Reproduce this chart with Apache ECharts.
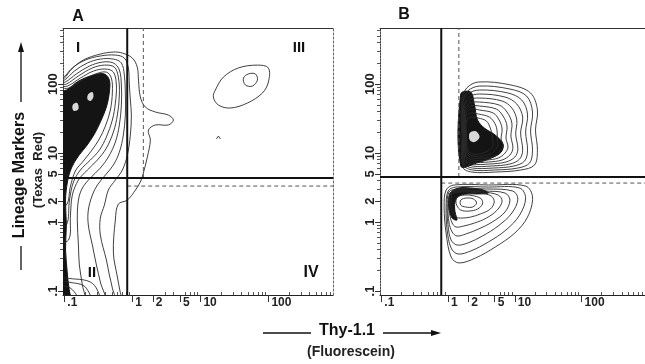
<!DOCTYPE html>
<html>
<head>
<meta charset="utf-8">
<script src="https://cdn.jsdelivr.net/npm/echarts@6/dist/echarts.min.js"></script>
<style>
html, body { margin: 0; padding: 0; background: #fff; }
#chart { width: 645px; height: 364px; }
</style>
</head>
<body>
<div id="chart"></div>
<script>
// log axes: tick marks and labels
var tickValues = [0.1, 1, 2, 5, 10, 100];
var tickLabels = ['.1', '1', '2', '5', '10', '100'];
var minorTickValues = [0.2, 0.3, 0.4, 0.5, 0.6, 0.7, 0.8, 0.9, 3, 4, 6, 7, 8, 9,
    20, 30, 40, 50, 60, 70, 80, 90, 200, 300, 400, 500, 600, 700, 800];
var xExtent = [0.0955, 891];
var yExtent = [0.0875, 649];

// gates: [solid x, solid y], [dashed x, dashed y]
var gateA = [0.84, 4.34], dashA = [1.45, 3.32];
var gateB = [0.79, 4.49], dashB = [1.45, 3.67];

// panel A contours (Thy-1.1, lineage)
var aRings = [
    [[0.074,122],[0.097,126],[0.123,160],[0.190,223],[0.338,272],[0.526,291],[0.713,281],[1.0,238],[1.18,176],[1.23,114],[1.31,64.8],[1.55,46.4],[2.18,39.3],[3.38,35.5],[4.01,30.1],[3.38,25.5],[2.18,25.5],[1.72,21.5],[1.84,15.4],[1.66,8.75],[1.45,5.13],[1.31,3.80],[1.11,2.91],[0.844,2.08],[0.622,1.82],[0.562,1.07],[0.526,0.356],[0.602,0.160],[0.666,0.094],[0.713,0.069],[0.074,0.069]],
    [[0.074,114],[0.097,118],[0.131,171],[0.204,223],[0.338,255],[0.562,263],[0.762,238],[0.873,171],[0.903,96.8],[0.934,58.6],[0.967,35.5],[0.934,18.2],[0.844,9.35],[0.713,5.67],[0.562,4.06],[0.444,2.91],[0.388,1.76],[0.338,1.14],[0.338,0.648],[0.415,0.281],[0.459,0.171],[0.508,0.110],[0.544,0.069],[0.074,0.069]],
    [[0.074,107],[0.100,114],[0.140,154],[0.218,202],[0.338,230],[0.526,230],[0.689,202],[0.762,135],[0.789,69.3],[0.789,35.5],[0.737,18.2],[0.644,10.3],[0.526,6.70],[0.401,4.80],[0.306,3.44],[0.258,2.46],[0.225,1.49],[0.225,0.905],[0.258,0.464],[0.296,0.238],[0.338,0.135],[0.388,0.069],[0.074,0.069]],
    [[0.074,100],[0.103,107],[0.150,140],[0.233,182],[0.362,208],[0.526,202],[0.644,160],[0.689,96.8],[0.689,49.6],[0.644,25.5],[0.562,14.4],[0.444,8.75],[0.338,6.06],[0.241,4.34],[0.184,3.11],[0.161,2.08],[0.155,1.07],[0.161,0.464],[0.166,0.238],[0.184,0.122],[0.197,0.069],[0.074,0.069]],
    [[0.074,93.5],[0.107,100],[0.161,131],[0.258,171],[0.388,188],[0.544,176],[0.622,126],[0.644,69.3],[0.602,35.5],[0.526,20.2],[0.415,11.8],[0.306,7.92],[0.218,5.67],[0.161,4.06],[0.131,2.46],[0.123,1.26],[0.115,0.548],[0.074,0.548]],
    [[0.074,87.5],[0.111,93.5],[0.172,122],[0.267,154],[0.401,165],[0.526,149],[0.582,96.8],[0.562,53.0],[0.508,30.1],[0.415,17.1],[0.327,11.0],[0.241,7.92],[0.172,5.67],[0.136,3.80],[0.119,2.08],[0.107,0.905],[0.074,0.905]],
    [[0.074,81.9],[0.115,87.5],[0.184,114],[0.286,140],[0.415,149],[0.491,122],[0.508,76.6],[0.475,42.0],[0.401,24.6],[0.327,16.0],[0.249,10.7],[0.190,7.66],[0.145,5.48],[0.123,3.32],[0.107,1.76],[0.074,1.76]],
    [[0.074,0.144],[0.145,0.149],[0.241,0.135],[0.306,0.103],[0.327,0.069],[0.074,0.069]],
    [[0.074,0.131],[0.136,0.131],[0.204,0.114],[0.241,0.069],[0.074,0.069]],
    [[0.074,0.114],[0.123,0.110],[0.161,0.069],[0.074,0.069]],
    [[16.6,81.9],[21.8,126],[36.2,171],[68.9,188],[100,171],[100,107],[81.6,74.1],[49.1,53.0],[27.6,44.9],[18.4,49.6],[15.5,64.8]],
    [[42.9,122],[50.8,140],[64.4,140],[68.9,114],[58.2,93.5],[45.9,96.8]]
];
var aCores = [
    [[0.074,74.1],[0.107,81.9],[0.161,110],[0.267,135],[0.388,140],[0.459,114],[0.459,76.6],[0.415,46.4],[0.338,28.1],[0.276,18.8],[0.211,12.6],[0.161,9.05],[0.127,6.06],[0.111,3.80],[0.104,2.08],[0.107,0.905],[0.104,0.393],[0.111,0.171],[0.115,0.069],[0.074,0.069]],
    [[0.074,0.122],[0.103,0.122],[0.119,0.097],[0.123,0.069],[0.074,0.069]]
];
var aSpots = [
    [[0.225,71.6],[0.258,76.6],[0.267,64.8],[0.241,56.7],[0.218,60.6]],
    [[0.136,51.3],[0.155,53.0],[0.161,43.4],[0.140,40.6],[0.131,44.9]]
];
var aCaret = [[17.2,16.0],[18.4,17.6],[19.7,16.0]];

// panel B contours
var bRings = [
    [[1.61,58.6],[1.90,87.5],[2.86,107],[8.73,96.8],[17.2,74.1],[21.8,42.0],[20.4,21.5],[21.8,11.0],[19.7,6.70],[12.2,5.67],[5.08,5.30],[2.25,5.30],[1.66,6.27],[1.61,18.2]],
    [[1.66,54.8],[1.97,79.2],[2.96,93.5],[8.44,84.6],[15.0,67.0],[18.4,39.3],[17.2,20.8],[18.4,11.0],[16.6,7.16],[11.1,6.06],[4.91,5.67],[2.33,5.67],[1.72,6.70],[1.66,18.2]],
    [[1.66,51.3],[1.97,71.6],[2.96,81.9],[7.89,74.1],[12.7,58.6],[15.5,36.7],[14.5,20.2],[15.5,11.0],[14.0,7.66],[9.67,6.48],[4.75,6.06],[2.33,6.06],[1.72,7.16],[1.66,18.2]],
    [[1.72,48.0],[2.04,64.8],[2.96,71.6],[7.13,64.8],[10.7,51.3],[13.1,33.2],[12.2,19.5],[13.1,11.0],[11.8,8.18],[8.44,6.93],[4.44,6.48],[2.33,6.48],[1.78,7.66],[1.72,17.6]],
    [[1.72,44.9],[2.04,58.6],[2.96,62.7],[6.44,56.7],[9.03,44.9],[10.7,30.1],[10.3,18.8],[11.1,11.4],[10.0,8.75],[7.37,7.41],[4.15,6.93],[2.33,6.93],[1.78,8.18],[1.72,17.6]],
    [[1.78,42.0],[2.11,53.0],[2.96,54.8],[5.82,49.6],[7.63,39.3],[9.03,27.2],[8.73,17.6],[9.35,11.8],[8.44,9.35],[6.44,7.92],[4.01,7.41],[2.33,7.41],[1.84,8.75],[1.78,17.1]],
    [[1.78,39.3],[2.11,48.0],[2.96,48.0],[5.26,43.4],[6.66,34.4],[7.63,24.6],[7.37,16.5],[7.89,12.2],[7.13,10.0],[5.62,8.46],[3.75,7.92],[2.33,7.92],[1.84,9.35],[1.78,17.1]],
    [[1.84,36.7],[2.18,43.4],[2.96,42.0],[4.75,38.0],[5.82,30.1],[6.44,22.3],[6.23,16.0],[6.66,12.6],[6.02,10.7],[4.91,9.05],[3.50,8.46],[2.33,8.46],[1.90,10.0],[1.84,16.5]],
    [[1.84,33.2],[2.18,38.0],[2.86,36.7],[4.15,33.2],[5.08,26.3],[5.44,20.2],[5.44,15.4],[5.62,13.1],[5.08,11.0],[4.29,9.68],[3.27,9.05],[2.33,9.05],[1.90,10.7],[1.84,16.5]],
    [[1.90,30.1],[2.25,33.2],[2.86,32.1],[3.75,29.1],[4.29,23.0],[4.59,18.2],[4.59,14.9],[4.75,13.1],[4.29,11.4],[3.62,10.3],[2.96,9.68],[2.33,9.68],[1.97,11.0],[1.90,16.0]],
    [[0.934,2.91],[1.23,3.44],[4.01,3.44],[14.5,3.32],[18.4,2.30],[15.5,1.18],[10.0,0.693],[5.08,0.434],[2.58,0.301],[1.45,0.255],[1.11,0.311],[0.934,0.693],[0.873,1.65]],
    [[1.0,2.81],[1.31,3.21],[4.01,3.21],[11.8,3.11],[14.5,2.23],[11.8,1.26],[7.37,0.766],[4.01,0.513],[2.18,0.380],[1.40,0.344],[1.11,0.420],[0.967,0.766],[0.934,1.60]],
    [[1.03,2.72],[1.36,3.01],[3.75,3.01],[9.35,2.81],[11.1,2.15],[9.03,1.35],[5.62,0.875],[3.27,0.627],[1.97,0.496],[1.36,0.464],[1.11,0.548],[1.0,0.875],[0.967,1.60]],
    [[1.07,2.63],[1.40,2.91],[3.50,2.81],[7.13,2.63],[8.44,2.08],[7.13,1.40],[4.59,1.0],[2.86,0.792],[1.84,0.670],[1.36,0.627],[1.15,0.716],[1.03,1.0],[1.0,1.60]],
    [[1.11,2.63],[1.45,2.81],[3.27,2.72],[5.62,2.46],[6.44,2.01],[5.44,1.49],[3.75,1.14],[2.49,0.967],[1.72,0.875],[1.31,0.847],[1.15,0.967],[1.07,1.22],[1.03,1.71]],
    [[1.15,2.55],[1.50,2.72],[2.96,2.63],[4.44,2.38],[4.91,1.95],[4.29,1.54],[3.06,1.31],[2.18,1.18],[1.61,1.14],[1.31,1.18],[1.18,1.35],[1.11,1.65],[1.11,2.08]],
    [[1.36,2.30],[1.78,2.46],[2.49,2.38],[3.16,2.15],[3.27,1.82],[2.76,1.54],[2.04,1.44],[1.55,1.49],[1.36,1.71],[1.31,2.01]],
    [[1.55,2.08],[1.90,2.23],[2.41,2.15],[2.67,1.88],[2.33,1.65],[1.84,1.65],[1.55,1.76]]
];
var bCores = [
    [[1.55,71.6],[2.18,76.6],[2.49,49.6],[2.76,30.1],[3.50,23.0],[5.08,18.2],[6.66,13.5],[6.23,10.3],[4.44,8.46],[2.67,7.16],[1.55,6.48]],
    [[1.11,2.72],[1.45,3.11],[2.18,3.11],[3.38,2.91],[4.01,2.63],[2.86,2.55],[1.90,2.55],[1.45,2.38],[1.27,1.95],[1.27,1.40],[1.36,1.07],[1.15,1.14],[1.03,1.60],[1.03,2.23]]
];
var bSpots = [
    [[2.11,19.5],[2.58,20.8],[2.96,17.1],[2.49,14.4],[2.11,15.4]]
];

var FONT = '"Liberation Sans", Arial, Helvetica, sans-serif';
var lg = function (v) { return Math.log10(v); };
var XMIN = lg(xExtent[0]), XMAX = lg(xExtent[1]);
var YMIN = lg(yExtent[0]), YMAX = lg(yExtent[1]);

function labelOf(v) {
    var best = 0;
    for (var i = 1; i < tickValues.length; i++) {
        if (Math.abs(lg(tickValues[i]) - v) < Math.abs(lg(tickValues[best]) - v)) best = i;
    }
    return tickLabels[best];
}

function axesFor(g, withRight) {
    var xs = [
        { gridIndex: g, type: 'value', position: 'bottom', min: XMIN, max: XMAX,
          axisLine: { onZero: false, lineStyle: { color: '#222', width: 1 } },
          axisTick: { customValues: tickValues.map(lg), inside: false, length: 7, lineStyle: { color: '#333' } },
          axisLabel: { customValues: tickValues.map(lg), formatter: labelOf, align: 'left', margin: 2,
                       padding: [0, 0, 0, 3], fontSize: 12, fontWeight: 'bold', color: '#222', fontFamily: FONT },
          splitLine: { show: false } },
        { gridIndex: g, type: 'value', position: 'bottom', min: XMIN, max: XMAX,
          axisLine: { show: false, onZero: false },
          axisTick: { customValues: minorTickValues.map(lg), inside: true, length: 3, lineStyle: { color: '#555' } },
          axisLabel: { show: false }, splitLine: { show: false } },
        { gridIndex: g, type: 'value', position: 'top', min: XMIN, max: XMAX,
          axisLine: { onZero: false, lineStyle: { color: '#333', width: 1 } },
          axisTick: { show: false }, axisLabel: { show: false }, splitLine: { show: false } }
    ];
    var ys = [
        { gridIndex: g, type: 'value', position: 'left', min: YMIN, max: YMAX,
          axisLine: { onZero: false, lineStyle: { color: '#444', width: 1, type: [2, 1] } },
          axisTick: { customValues: tickValues.map(lg), inside: false, length: 5, lineStyle: { color: '#333' } },
          axisLabel: { customValues: tickValues.map(lg), formatter: labelOf, rotate: 90, margin: 3,
                       fontSize: 13, fontWeight: 'bold', color: '#222', fontFamily: FONT },
          splitLine: { show: false } },
        { gridIndex: g, type: 'value', position: 'left', min: YMIN, max: YMAX,
          axisLine: { show: false, onZero: false },
          axisTick: { customValues: minorTickValues.map(lg), inside: false, length: 3, lineStyle: { color: '#555' } },
          axisLabel: { show: false }, splitLine: { show: false } },
        { gridIndex: g, type: 'value', position: 'right', min: YMIN, max: YMAX, show: withRight,
          axisLine: { onZero: false, lineStyle: { color: '#666', width: 1, type: [2, 2] } },
          axisTick: { show: false }, axisLabel: { show: false }, splitLine: { show: false } }
    ];
    return { xs: xs, ys: ys };
}

function shapeSeries(g, rings, style, kind) {
    return {
        type: 'custom', xAxisIndex: g * 3, yAxisIndex: g * 3, clip: true, silent: true,
        data: rings.map(function (r) { return [lg(r[0][0]), lg(r[0][1])]; }),
        renderItem: function (params, api) {
            var pts = rings[params.dataIndex].map(function (p) {
                return api.coord([lg(p[0]), lg(p[1])]);
            });
            if (kind === 'polyline') {
                return { type: 'polyline', shape: { points: pts }, style: style };
            }
            return { type: 'polygon', shape: { points: pts, smooth: 0.35 }, style: style };
        }
    };
}

function gateSeries(g, gate, dash) {
    return {
        type: 'custom', xAxisIndex: g * 3, yAxisIndex: g * 3, silent: true,
        data: [[lg(gate[0]), lg(gate[1]), lg(dash[0]), lg(dash[1])]],
        renderItem: function (params, api) {
            var gx = api.value(0), gy = api.value(1), dx = api.value(2), dy = api.value(3);
            function seg(a, b, st) {
                var p1 = api.coord(a), p2 = api.coord(b);
                return { type: 'line', shape: { x1: p1[0], y1: p1[1], x2: p2[0], y2: p2[1] }, style: st };
            }
            var solid = { stroke: '#111', lineWidth: 2 };
            var dashed = { stroke: '#555', lineWidth: 1, lineDash: [4, 3] };
            return { type: 'group', children: [
                seg([dx, gy], [dx, YMAX], dashed),
                seg([gx, dy], [XMAX, dy], dashed),
                seg([gx, YMIN], [gx, YMAX], solid),
                seg([XMIN, gy], [XMAX, gy], solid)
            ] };
        }
    };
}

var ringStyle = { fill: 'none', stroke: '#2a2a2a', lineWidth: 0.9 };
var coreStyle = { fill: '#141414', stroke: '#141414', lineWidth: 1 };
var spotStyle = { fill: '#d8d8d8', stroke: 'none' };

var axA = axesFor(0, true), axB = axesFor(1, false);

var option = {
    animation: false,
    backgroundColor: '#fff',
    grid: [
        { left: 63, top: 28, width: 270, height: 267 },
        { left: 380, top: 28, width: 270, height: 267 }
    ],
    xAxis: axA.xs.concat(axB.xs),
    yAxis: axA.ys.concat(axB.ys),
    series: [
        shapeSeries(0, aCores, coreStyle),
        shapeSeries(0, aSpots, spotStyle),
        shapeSeries(0, aRings, ringStyle),
        shapeSeries(0, [aCaret], ringStyle, 'polyline'),
        gateSeries(0, gateA, dashA),
        shapeSeries(1, bCores, coreStyle),
        shapeSeries(1, bSpots, spotStyle),
        shapeSeries(1, bRings, ringStyle),
        gateSeries(1, gateB, dashB)
    ],
    graphic: [
        { type: 'text', x: 78, y: 17, style: { text: 'A', font: 'bold 16px ' + FONT, fill: '#111', align: 'center', verticalAlign: 'middle' } },
        { type: 'text', x: 404, y: 15, style: { text: 'B', font: 'bold 16px ' + FONT, fill: '#111', align: 'center', verticalAlign: 'middle' } },
        { type: 'text', x: 78, y: 48, style: { text: 'I', font: 'bold 15px ' + FONT, fill: '#111', align: 'center', verticalAlign: 'middle' } },
        { type: 'text', x: 299, y: 48, style: { text: 'III', font: 'bold 15px ' + FONT, fill: '#111', align: 'center', verticalAlign: 'middle' } },
        { type: 'text', x: 92, y: 273, style: { text: 'II', font: 'bold 15px ' + FONT, fill: '#111', align: 'center', verticalAlign: 'middle' } },
        { type: 'text', x: 311, y: 273, style: { text: 'IV', font: 'bold 16px ' + FONT, fill: '#111', align: 'center', verticalAlign: 'middle' } },
        // y axis title
        { type: 'text', x: 20, y: 175, rotation: Math.PI / 2, style: { text: 'Lineage Markers', font: 'bold 16px ' + FONT, fill: '#111', align: 'center', verticalAlign: 'middle' } },
        { type: 'text', x: 38, y: 170, rotation: Math.PI / 2, style: { text: '(Texas  Red)', font: 'bold 13px ' + FONT, fill: '#222', align: 'center', verticalAlign: 'middle' } },
        { type: 'line', shape: { x1: 21, y1: 102, x2: 21, y2: 50 }, style: { stroke: '#111', lineWidth: 1.3 } },
        { type: 'polygon', shape: { points: [[21, 42], [18, 52], [24, 52]] }, style: { fill: '#111' } },
        { type: 'line', shape: { x1: 21, y1: 246, x2: 21, y2: 270 }, style: { stroke: '#111', lineWidth: 1.3 } },
        // x axis title
        { type: 'line', shape: { x1: 263, y1: 333, x2: 311, y2: 333 }, style: { stroke: '#111', lineWidth: 1.3 } },
        { type: 'text', x: 347, y: 331, style: { text: 'Thy-1.1', font: 'bold 16px ' + FONT, fill: '#111', align: 'center', verticalAlign: 'middle' } },
        { type: 'line', shape: { x1: 383, y1: 333, x2: 432, y2: 333 }, style: { stroke: '#111', lineWidth: 1.3 } },
        { type: 'polygon', shape: { points: [[441, 333], [431, 330], [431, 336]] }, style: { fill: '#111' } },
        { type: 'text', x: 351, y: 352, style: { text: '(Fluorescein)', font: 'bold 14px ' + FONT, fill: '#222', align: 'center', verticalAlign: 'middle' } }
    ]
};

var chart = echarts.init(document.getElementById('chart'));
chart.setOption(option);
</script>
</body>
</html>
